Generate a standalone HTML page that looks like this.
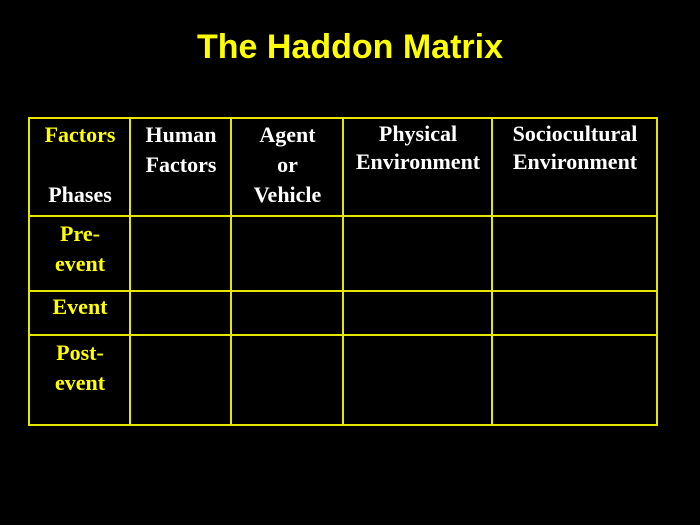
<!DOCTYPE html>
<html><head><style>
html,body{margin:0;padding:0;background:#000;width:700px;height:525px;overflow:hidden;position:relative}
.t{position:absolute;left:0;width:700px;top:28px;text-align:center;font:bold 34px "Liberation Sans",sans-serif;color:#ffff00}
.h{position:absolute;height:2px;background:#e6e600}
.v{position:absolute;width:2px;background:#e6e600}
.x{position:absolute;font:bold 22px/30px "Liberation Serif",serif;color:#fff;text-align:center}
.y{color:#ffff00}
</style></head><body>
<div class="t">The Haddon Matrix</div>
<div class="h" style="left:28px;width:630px;top:117px"></div>
<div class="h" style="left:28px;width:630px;top:215px"></div>
<div class="h" style="left:28px;width:630px;top:290px"></div>
<div class="h" style="left:28px;width:630px;top:334px"></div>
<div class="h" style="left:28px;width:630px;top:424px"></div>
<div class="v" style="left:28px;top:117px;height:309px"></div>
<div class="v" style="left:129px;top:117px;height:309px"></div>
<div class="v" style="left:230px;top:117px;height:309px"></div>
<div class="v" style="left:342px;top:117px;height:309px"></div>
<div class="v" style="left:491px;top:117px;height:309px"></div>
<div class="v" style="left:656px;top:117px;height:309px"></div>
<div class="x y" style="left:30px;width:100px;top:120px">Factors</div>
<div class="x" style="left:30px;width:100px;top:180px">Phases</div>
<div class="x" style="left:131px;width:100px;top:120px">Human<br>Factors</div>
<div class="x" style="left:232px;width:111px;top:120px">Agent<br>or<br>Vehicle</div>
<div class="x" style="left:344px;width:148px;top:120px;line-height:28px">Physical<br>Environment</div>
<div class="x" style="left:493px;width:164px;top:120px;line-height:28px">Sociocultural<br>Environment</div>
<div class="x y" style="left:30px;width:100px;top:219px">Pre-<br>event</div>
<div class="x y" style="left:30px;width:100px;top:292px">Event</div>
<div class="x y" style="left:30px;width:100px;top:338px">Post-<br>event</div>
</body></html>
